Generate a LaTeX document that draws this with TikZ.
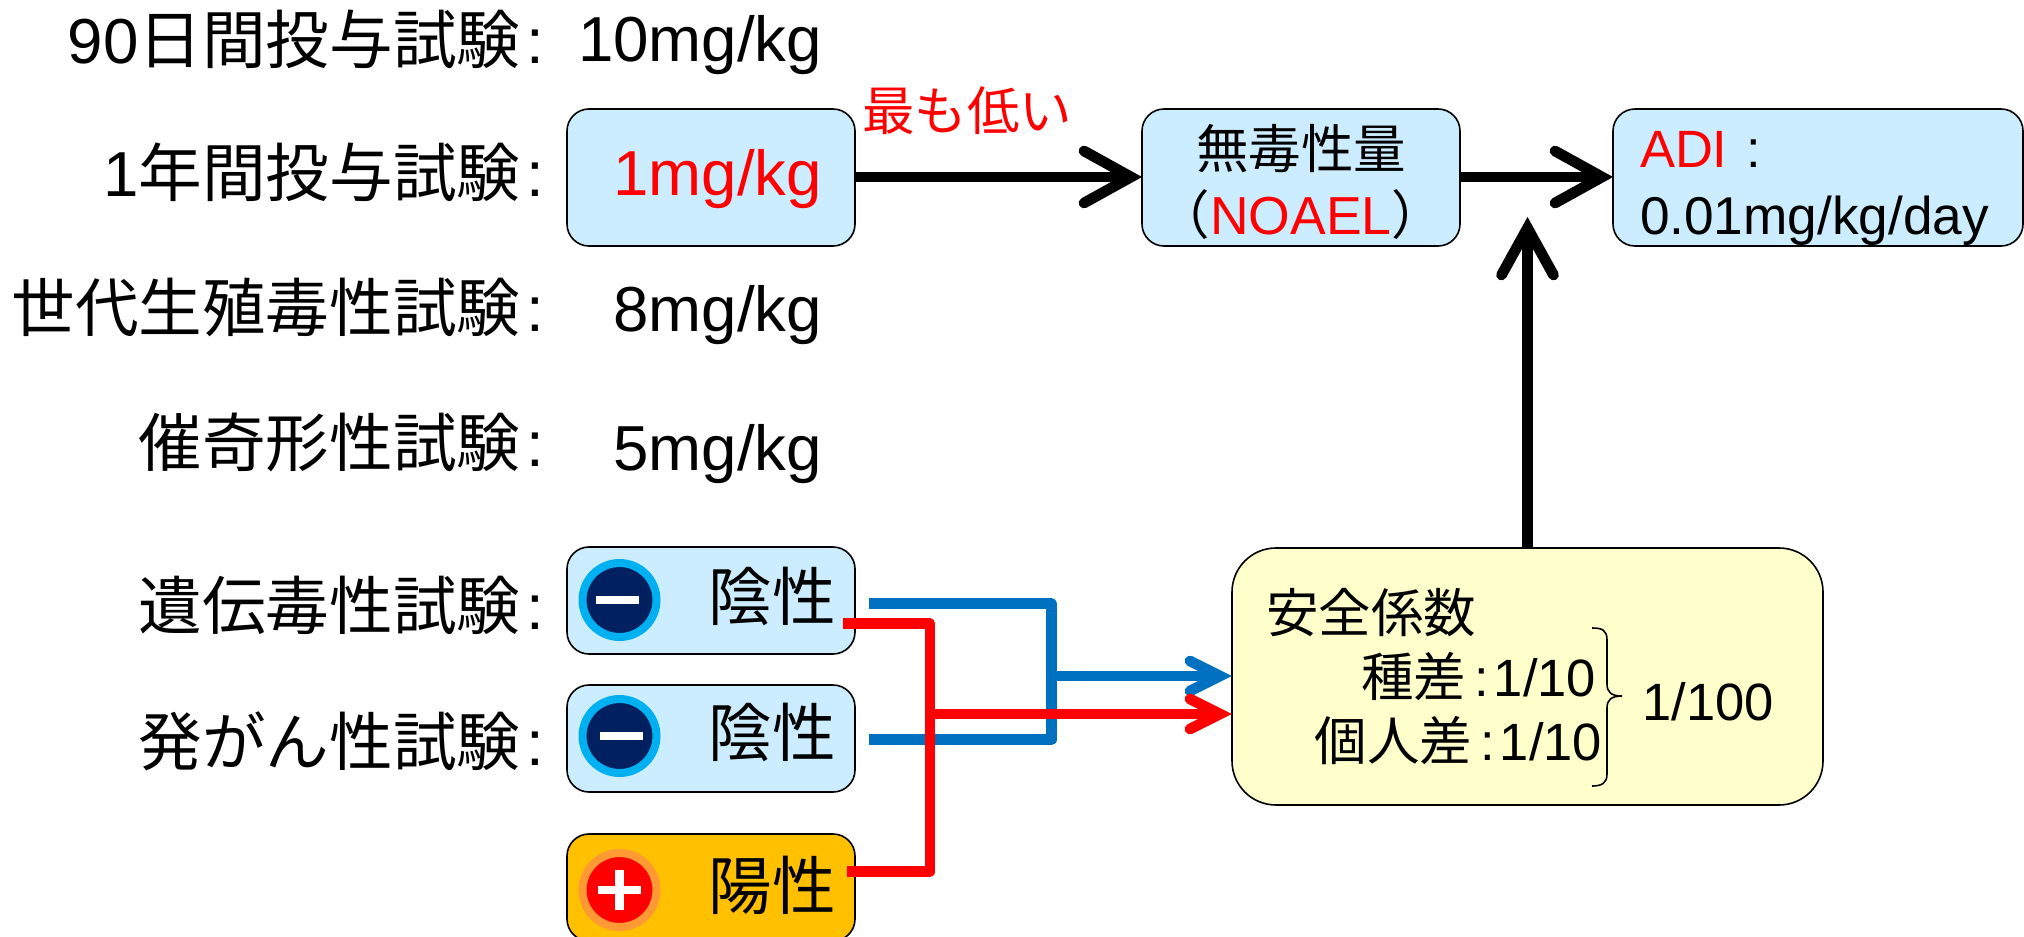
\documentclass[tikz,border=0pt]{standalone}
\usepackage{fontspec}
\setmainfont{Liberation Sans}
\newfontfamily\jp{Noto Sans CJK JP}
\usetikzlibrary{arrows.meta}
\makeatletter
\pgfdeclarearrow{
  name=BarbTip,
  parameters={\the\pgfarrowlength,\the\pgfarrowwidth,\the\pgfarrowinset},
  setup code={\pgfarrowssettipend{0pt}\pgfarrowssetbackend{-\pgfarrowlength}\pgfarrowssetlineend{-\pgfarrowinset}\pgfarrowssavethe\pgfarrowlength\pgfarrowssavethe\pgfarrowwidth\pgfarrowssavethe\pgfarrowinset},
  drawing code={
    \pgfsetdash{}{0pt}\pgfsetroundcap\pgfsetmiterjoin\pgfsetmiterlimit{20}
    \pgfpathmoveto{\pgfpoint{-\pgfarrowinset-\pgfarrowlength}{0.5\pgfarrowwidth}}
    \pgfpathlineto{\pgfpoint{-\pgfarrowinset}{0pt}}
    \pgfpathlineto{\pgfpoint{-\pgfarrowinset-\pgfarrowlength}{-0.5\pgfarrowwidth}}
    \pgfusepathqstroke
  },
  defaults={length=30pt,width=30pt,inset=12pt}
}
\makeatother
\definecolor{boxblue}{HTML}{CCECFF}
\definecolor{boxyellow}{HTML}{FFFFCC}
\definecolor{boxorange}{HTML}{FFC000}
\definecolor{lineblue}{HTML}{0070C0}
\definecolor{navy}{HTML}{002060}
\definecolor{ringblue}{HTML}{00B0F0}
\definecolor{ringorange}{HTML}{FF9933}
\tikzset{
  card/.style={draw=black,line width=1.6pt,rounded corners=22pt,inner sep=0pt,outer sep=0pt,fill=boxblue},
  labelbig/.style={font=\fontsize{63.6}{70}\selectfont,inner sep=0pt,outer sep=0pt,anchor=base east},
  labelmid/.style={font=\fontsize{52.5}{60}\selectfont,inner sep=0pt,outer sep=0pt},
  badge/.style={circle,inner sep=0pt,outer sep=0pt,minimum size=74pt,line width=8pt},
  bigarrow/.style={line width=10.7pt,-{BarbTip[length=47pt,width=52pt,inset=11pt]}},
  smallarrow/.style={line width=10.7pt,-{BarbTip[length=30pt,width=30pt,inset=12pt]}},
  feeder/.style={line width=10.7pt,line join=round}
}
\newcommand{\lcolon}{\hspace{6pt}:}
\begin{document}
\begin{tikzpicture}[x=1pt,y=-1pt]
\clip (0,0) rectangle (2024,937);
% left labels
\node[labelbig] (t1) at (544,63) {90{\jp 日間投与試験}\lcolon};
\node[labelbig] (t2) at (544,196) {1{\jp 年間投与試験}\lcolon};
\node[labelbig] (t3) at (544,331.5) {{\jp 世代生殖毒性試験}\lcolon};
\node[labelbig] (t4) at (544,466.5) {{\jp 催奇形性試験}\lcolon};
\node[labelbig] (t5) at (544,629.5) {{\jp 遺伝毒性試験}\lcolon};
\node[labelbig] (t6) at (544,765.5) {{\jp 発がん性試験}\lcolon};
\node[labelbig] (v1) at (822,61) {10mg/kg};
\node[labelbig] (v3) at (822,331) {8mg/kg};
\node[labelbig] (v4) at (822,470) {5mg/kg};
% boxes
\node[card,minimum width=288pt,minimum height=137pt] (low) at (711,177.5) {};
\node[labelbig,text=red] (lowt) at (822,195) {1mg/kg};
\node[card,minimum width=318pt,minimum height=137pt] (noael) at (1301,177.5) {};
\node[card,minimum width=410pt,minimum height=137pt] (adi) at (1818,177.5) {};
\node[card,minimum width=288pt,minimum height=107pt] (g1) at (711,600.5) {};
\node[card,minimum width=288pt,minimum height=107pt] (g2) at (711,738.5) {};
\node[card,fill=boxorange,minimum width=288pt,minimum height=107pt] (g3) at (711,887.5) {};
\node[card,fill=boxyellow,rounded corners=44pt,minimum width=591pt,minimum height=257pt] (safe) at (1527.5,676.5) {};
% box texts
\node[labelmid,anchor=base] (nt1) at (1301,168) {\jp 無毒性量};
\node[labelmid,anchor=base] (nt2) at (1301,234) {\jp （\textcolor{red}{\normalfont\fontsize{53.5}{60}\selectfont NOAEL}）};
\node[labelmid,anchor=base west] (at1) at (1640,167) {\textcolor{red}{ADI}\hspace{19pt}:};
\node[labelmid,anchor=base west,font=\fontsize{53.2}{60}\selectfont] (at2) at (1640,234) {0.01mg/kg/day};
\node[labelmid,anchor=base,text=red] (lowest) at (967,130) {\jp 最も低い};
\node[labelbig,anchor=base] (p1) at (772,620) {\jp 陰性};
\node[labelbig,anchor=base] (p2) at (772,756) {\jp 陰性};
\node[labelbig,anchor=base] (p3) at (772,909) {\jp 陽性};
\node[labelmid,anchor=base west] (s0) at (1266,632) {\jp 安全係数};
\node[labelmid,anchor=base east] (s1) at (1596,696) {{\jp 種差}\hspace{8pt}:\hspace{5pt}1/10};
\node[labelmid,anchor=base east] (s2) at (1602,760) {{\jp 個人差}\hspace{8pt}:\hspace{5pt}1/10};
\node[labelmid,anchor=base] (s3) at (1708,720) {1/100};
\draw[line width=1.6pt] (1592,628) .. controls (1602,628) and (1607,630) .. (1607,640) -- (1607,684) .. controls (1607,692) and (1611,696) .. (1622,696) .. controls (1611,696) and (1607,700) .. (1607,708) -- (1607,774) .. controls (1607,783) and (1602,786) .. (1592,786);
% badges
\node[badge,draw=ringblue,fill=navy] (b1) at (619.5,600) {};
\node[badge,draw=ringblue,fill=navy] (b2) at (619.5,736) {};
\node[badge,draw=ringorange,fill=red] (b3) at (619.5,890) {};
\fill[white] (595.5,596) rectangle (639,604);
\fill[white] (600,732) rectangle (643,740);
\fill[white] (598,886) rectangle (640.5,894);
\fill[white] (615,870) rectangle (624,910);
% black arrows
\draw[bigarrow] (low.east |- 0,177) -- (noael.west |- 0,177);
\draw[bigarrow] (noael.east |- 0,177) -- (adi.west |- 0,177);
\coordinate (upfoot) at (safe.north);
\coordinate (uptip) at (safe.north |- 0,217);
\draw[bigarrow] (upfoot) -- (uptip);
% blue feeders
\coordinate (bs1) at (869,603.7);
\coordinate (bs2) at (869,739.7);
\coordinate (bj) at (1051.5,676);
\draw[feeder,lineblue] (bs1) -| (bj) |- (bs2);
\draw[smallarrow,lineblue] (bj) -- (safe.west |- bj);
% red feeders
\coordinate (rs1) at (842.6,623.7);
\coordinate (rs2) at (847,871.7);
\coordinate (rj) at (930,714);
\draw[feeder,red] (rs1) -| (rj) |- (rs2);
\draw[smallarrow,red] (rj) -- (safe.west |- rj);
\end{tikzpicture}
\end{document}
